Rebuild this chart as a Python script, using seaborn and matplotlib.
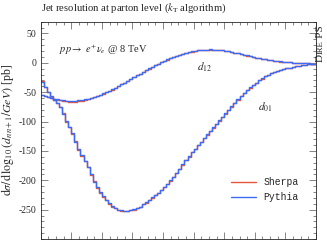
import numpy as np
import pandas as pd
import matplotlib
matplotlib.use('Agg')
import matplotlib.pyplot as plt
from matplotlib.ticker import MultipleLocator
import seaborn as sns

# log10(d/GeV) binning, 90 bins of 0.05
bin_edges = np.linspace(0.0, 4.5, 91)

d01_pythia = [-32, -41, -50, -57, -63, -68, -75, -87, -99, -109,
              -120, -134, -147, -157, -167, -178, -190, -203, -212, -220,
              -227, -234, -239, -244, -247, -250, -251, -252, -252, -251,
              -249, -247, -245, -241, -237, -233, -229, -225, -221, -216,
              -211, -206, -200, -194, -187, -180, -173, -166, -159, -152,
              -146, -140, -134, -128, -122, -116, -110, -104, -98, -92,
              -86, -80, -74, -68, -62, -56, -51, -46, -42, -38,
              -34, -30, -26, -23, -20, -17.5, -15.5, -13.5, -12, -10.5,
              -9, -8, -7, -6, -5, -4.2, -3.4, -2.6, -1.9, -1.2]
d01_sherpa = [-31, -42, -49, -58, -63, -69, -76, -86, -100, -110,
              -121, -133, -148, -158, -168, -177, -191, -202, -213, -221,
              -228, -233, -240, -245, -248, -250, -252, -252, -253, -251,
              -250, -247, -246, -241, -238, -233, -230, -225, -222, -216,
              -212, -206, -201, -194, -188, -180, -174, -166, -160, -152,
              -147, -140, -135, -128, -123, -116, -111, -104, -99, -92,
              -87, -80, -75, -68, -63, -56, -52, -46, -43, -38,
              -35, -30, -27, -23, -21, -17.5, -16, -13.5, -12.5, -10.5,
              -9.3, -8, -7.3, -6, -5.2, -4.2, -3.5, -2.6, -2.0, -1.2]
d12_pythia = [-55, -56.5, -58, -59.5, -61, -62, -63, -63.8, -64.3, -64.6,
              -64.7, -64.5, -64, -63.2, -62.2, -61, -59.6, -58, -56.3, -54.3,
              -52.2, -50, -47.6, -45, -42.3, -39.5, -36.6, -33.6, -30.6, -27.6,
              -24.5, -21.4, -18.4, -15.4, -12.5, -9.6, -6.8, -4.1, -1.5, 1,
              3.4, 5.7, 7.9, 10, 11.9, 13.7, 15.3, 16.8, 18.1, 19.3,
              20.3, 21.1, 21.8, 22.3, 22.6, 22.7, 22.6, 22.3, 21.8, 21.1,
              20.3, 19.4, 18.4, 17.3, 16.1, 14.9, 13.7, 12.5, 11.3, 10.1,
              9, 7.9, 6.9, 6, 5.1, 4.3, 3.6, 2.9, 2.3, 1.8,
              1.3, 0.9, 0.5, 0.1, -0.2, -0.5, -0.8, -1, -1.2, -1.4]
d12_sherpa = [-55.5, -57, -58.5, -60, -61.5, -62.8, -64, -65, -65.6, -66,
              -66.2, -66, -65.4, -64.5, -63.3, -62, -60.4, -58.6, -56.8, -54.7,
              -52.5, -50.5, -47.8, -45.5, -42.4, -39.8, -36.6, -33.9, -30.7, -27.9,
              -24.6, -21.6, -18.5, -15.5, -12.6, -9.8, -6.9, -4.2, -1.6, 0.9,
              3.3, 5.6, 7.8, 9.9, 11.8, 13.6, 15.2, 16.7, 18.0, 19.2,
              20.2, 21.0, 21.7, 22.2, 22.5, 22.6, 22.5, 22.2, 21.7, 21.0,
              20.2, 19.3, 18.3, 17.2, 16.0, 14.8, 13.6, 12.4, 11.2, 10.0,
              8.9, 7.8, 6.8, 5.9, 5.0, 4.2, 3.5, 2.8, 2.2, 1.7,
              1.2, 0.8, 0.4, 0.0, -0.3, -0.6, -0.9, -1.1, -1.3, -1.5]

y_ticks = [50, 0, -50, -100, -150, -200, -250]

sherpa_color = '#e8553a'
pythia_color = '#3d6cf2'

sns.set_theme(style='ticks')
plt.rcParams['font.family'] = ['Liberation Serif', 'DejaVu Serif']
plt.rcParams['mathtext.fontset'] = 'stix'
plt.rcParams['axes.linewidth'] = 0.6

fig = plt.figure(figsize=(3.27, 2.41), dpi=100)
ax = fig.add_axes([40.7 / 327, 2.0 / 241, (316 - 40.7) / 327, (239 - 21.7) / 241])


def step_frame(vals):
    return pd.DataFrame({'x': bin_edges, 'y': np.append(vals, vals[-1])})


for vals, color, lab in [(d01_sherpa, sherpa_color, 'Sherpa'),
                         (d12_sherpa, sherpa_color, None),
                         (d01_pythia, pythia_color, 'Pythia'),
                         (d12_pythia, pythia_color, None)]:
    sns.lineplot(data=step_frame(vals), x='x', y='y', ax=ax, color=color,
                 linewidth=1.0, drawstyle='steps-post', sort=False,
                 estimator=None, label=lab)

ax.set_xlim(0, 4.5)
ax.set_ylim(-300, 70)
ax.xaxis.set_major_locator(MultipleLocator(0.5))
ax.xaxis.set_minor_locator(MultipleLocator(0.125))
ax.set_yticks(y_ticks)
ax.set_yticklabels([str(t) for t in y_ticks])
ax.yaxis.set_minor_locator(MultipleLocator(10))
ax.tick_params(which='both', direction='in', top=True, right=True,
               width=0.5, color='#555555', labelsize=7, pad=3)
ax.tick_params(which='major', length=5)
ax.tick_params(which='minor', length=2.5)
ax.tick_params(axis='x', labelbottom=False)
ax.set_xlabel('')
ax.set_ylabel(r'$\mathrm{d}\sigma/\mathrm{d}\,\log_{10}(d_{n\,n+1}/GeV)$ [pb]',
              fontsize=8.6, labelpad=2)

fig.text(40.7 / 327, 1 - 8 / 241, r'Jet resolution at parton level ($k_\mathrm{T}$ algorithm)',
         fontsize=7.7, ha='left', va='center')
ax.text(0.068, 0.87, r'$pp \rightarrow\ e^{+}\nu_e$ @ 8 TeV', transform=ax.transAxes,
        fontsize=7.5, ha='left', va='center')
ax.text(2.68, -8, r'$d_{12}$', fontsize=8, ha='center', va='center')
ax.text(3.67, -76, r'$d_{01}$', fontsize=8, ha='center', va='center')

leg = ax.legend(loc='lower right', bbox_to_anchor=(0.97, 0.13), frameon=False,
                prop={'family': 'Liberation Mono', 'size': 7},
                handlelength=2.6, handletextpad=0.8, labelspacing=0.5)

# small-caps style side label, pieces stacked bottom to top, baseline on the right
renderer = fig.canvas.get_renderer()
y_px = 62.0
for piece, size in [('D', 8), ('IRE', 6.2), ('\u2009PS', 8)]:
    t = fig.text(325 / 327, 1 - y_px / 241, piece, rotation=90, fontsize=size,
                 ha='right', va='bottom')
    y_px -= t.get_window_extent(renderer).height

fig.savefig('out.png', dpi=100)
